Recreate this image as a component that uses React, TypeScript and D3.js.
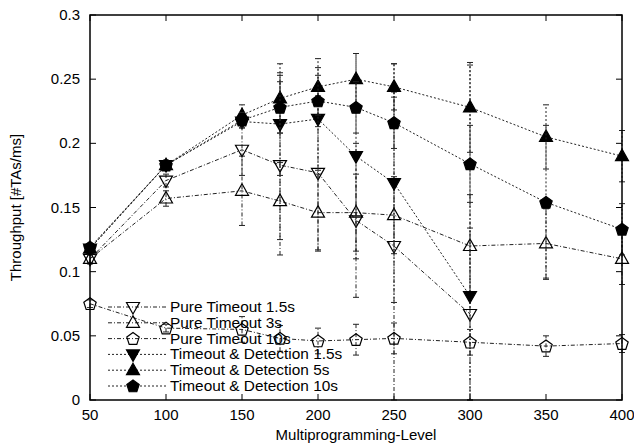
import React from "react";
import * as d3 from "d3";

const xFull = [50, 100, 150, 175, 200, 225, 250, 300, 350, 400];
const xShort = [50, 100, 150, 175, 200, 225, 250, 300];

const pure15 = [0.110, 0.171, 0.195, 0.183, 0.177, 0.140, 0.120, 0.067];
const pure15Err = [0.004, 0.005, 0.02, 0.07, 0.06, 0.06, 0.12, 0.067];

const pure3 = [0.110, 0.157, 0.163, 0.155, 0.146, 0.146, 0.144, 0.120, 0.122, 0.110];
const pure3Err = [0.003, 0.006, 0.027, 0.03, 0.03, 0.03, 0.03, 0.04, 0.027, 0.02];

const pure10 = [0.075, 0.056, 0.055, 0.048, 0.046, 0.047, 0.048, 0.045, 0.042, 0.044];
const pure10Err = [0.003, 0.003, 0.01, 0.01, 0.01, 0.012, 0.012, 0.01, 0.008, 0.007];

const det15 = [0.118, 0.183, 0.217, 0.215, 0.219, 0.190, 0.169, 0.081];
const det15Err = [0.003, 0.004, 0.005, 0.04, 0.04, 0.08, 0.093, 0.18];

const det5 = [0.118, 0.183, 0.222, 0.235, 0.244, 0.250, 0.244, 0.228, 0.205, 0.190];
const det5Err = [0.003, 0.003, 0.008, 0.027, 0.022, 0.02, 0.018, 0.035, 0.025, 0.02];

const det10 = [0.119, 0.183, 0.218, 0.228, 0.233, 0.228, 0.216, 0.184, 0.154, 0.133];
const det10Err = [0.003, 0.003, 0.006, 0.02, 0.02, 0.02, 0.02, 0.03, 0.06, 0.02];

const xTicks = [50, 100, 150, 200, 250, 300, 350, 400];
const yTicks = [0, 0.05, 0.1, 0.15, 0.2, 0.25, 0.3];

type Marker = "tdown" | "tup" | "pent";

const series = [
  { name: "Pure Timeout 1.5s", xs: xShort, ys: pure15, err: pure15Err, marker: "tdown" as Marker, filled: false, dash: "4,2,1,2" },
  { name: "Pure Timeout 3s", xs: xFull, ys: pure3, err: pure3Err, marker: "tup" as Marker, filled: false, dash: "4,2,1,2" },
  { name: "Pure Timeout 10s", xs: xFull, ys: pure10, err: pure10Err, marker: "pent" as Marker, filled: false, dash: "4,2,1,2" },
  { name: "Timeout & Detection 1.5s", xs: xShort, ys: det15, err: det15Err, marker: "tdown" as Marker, filled: true, dash: "2,2" },
  { name: "Timeout & Detection 5s", xs: xFull, ys: det5, err: det5Err, marker: "tup" as Marker, filled: true, dash: "2,2" },
  { name: "Timeout & Detection 10s", xs: xFull, ys: det10, err: det10Err, marker: "pent" as Marker, filled: true, dash: "2,2" },
];

function markerPath(m: Marker, cx: number, cy: number): string {
  const p = d3.path();
  if (m === "tup") {
    p.moveTo(cx, cy - 7);
    p.lineTo(cx + 6.5, cy + 4.5);
    p.lineTo(cx - 6.5, cy + 4.5);
    p.closePath();
  } else if (m === "tdown") {
    p.moveTo(cx, cy + 7);
    p.lineTo(cx + 6.5, cy - 4.5);
    p.lineTo(cx - 6.5, cy - 4.5);
    p.closePath();
  } else {
    const r = 6.5;
    for (let i = 0; i < 5; i++) {
      const a = -Math.PI / 2 + (i * 2 * Math.PI) / 5;
      const px = cx + r * Math.cos(a);
      const py = cy + r * Math.sin(a) + 0.5;
      if (i === 0) p.moveTo(px, py);
      else p.lineTo(px, py);
    }
    p.closePath();
  }
  return p.toString();
}

export default function App() {
  const W = 634, H = 445;
  const L = 90, R = 622, T = 15, B = 400;
  const x = d3.scaleLinear().domain([50, 400]).range([L, R]);
  const y = d3.scaleLinear().domain([0, 0.3]).range([B, T]).clamp(true);
  const font = "'Liberation Sans', Arial, Helvetica, sans-serif";
  const line = d3.line<[number, number]>().x((d) => x(d[0])).y((d) => y(d[1]));
  const tl = 6;
  const legX0 = 108, legX1 = 167, legMx = 133, legTx = 170, legY0 = 307, legDy = 15.8;

  return (
    <svg width={W} height={H} style={{ position: "absolute", left: 0, top: 0, background: "#fff" }}>
      <rect x={0} y={0} width={W} height={H} fill="#fff" />
      {xTicks.map((t) => (
        <g key={"xt" + t}>
          <line x1={x(t)} x2={x(t)} y1={B} y2={B - tl} stroke="#000" strokeWidth={1} />
          <line x1={x(t)} x2={x(t)} y1={T} y2={T + tl} stroke="#000" strokeWidth={1} />
          <text x={x(t)} y={420} fontSize={15} fontFamily={font} textAnchor="middle">{t}</text>
        </g>
      ))}
      {yTicks.map((t) => (
        <g key={"yt" + t}>
          <line x1={L} x2={L + tl} y1={y(t)} y2={y(t)} stroke="#000" strokeWidth={1} />
          <line x1={R} x2={R - tl} y1={y(t)} y2={y(t)} stroke="#000" strokeWidth={1} />
          <text x={80} y={y(t) + 5} fontSize={15} fontFamily={font} textAnchor="end">{String(t)}</text>
        </g>
      ))}
      {series.map((s, si) => {
        const pts: [number, number][] = s.xs.map((xv, i) => [xv, s.ys[i]]);
        return (
          <g key={"s" + si}>
            {s.xs.map((xv, i) => {
              const lo = Math.max(0, s.ys[i] - s.err[i]);
              const hi = s.ys[i] + s.err[i];
              return (
                <g key={"e" + i}>
                  <line x1={x(xv)} x2={x(xv)} y1={y(lo)} y2={y(hi)} stroke="#222" strokeWidth={1} strokeDasharray={s.dash} />
                  <line x1={x(xv) - 3} x2={x(xv) + 3} y1={y(lo)} y2={y(lo)} stroke="#222" strokeWidth={1} />
                  <line x1={x(xv) - 3} x2={x(xv) + 3} y1={y(hi)} y2={y(hi)} stroke="#222" strokeWidth={1} />
                </g>
              );
            })}
            <path d={line(pts) || ""} fill="none" stroke="#222" strokeWidth={1} strokeDasharray={s.dash} />
            {pts.map((p, i) => (
              <path key={"m" + i} d={markerPath(s.marker, x(p[0]), y(p[1]))}
                fill={s.filled ? "#000" : "none"} stroke="#000" strokeWidth={1.2} />
            ))}
          </g>
        );
      })}
      {series.map((s, i) => {
        const ly = legY0 + i * legDy;
        return (
          <g key={"l" + i}>
            <line x1={legX0} x2={legX1} y1={ly} y2={ly} stroke="#222" strokeWidth={1} strokeDasharray={s.dash} />
            <path d={markerPath(s.marker, legMx, ly)} fill={s.filled ? "#000" : "none"} stroke="#000" strokeWidth={1.2} />
            <text x={legTx} y={ly + 5} fontSize={15.4} fontFamily={font}>{s.name}</text>
          </g>
        );
      })}
      <rect x={L} y={T} width={R - L} height={B - T} fill="none" stroke="#000" strokeWidth={1.5} />
      <text x={356} y={440} fontSize={15} fontFamily={font} textAnchor="middle">Multiprogramming-Level</text>
      <text transform={`translate(21, ${(T + B) / 2}) rotate(-90)`} fontSize={15} fontFamily={font} textAnchor="middle">Throughput [#TAs/ms]</text>
    </svg>
  );
}
